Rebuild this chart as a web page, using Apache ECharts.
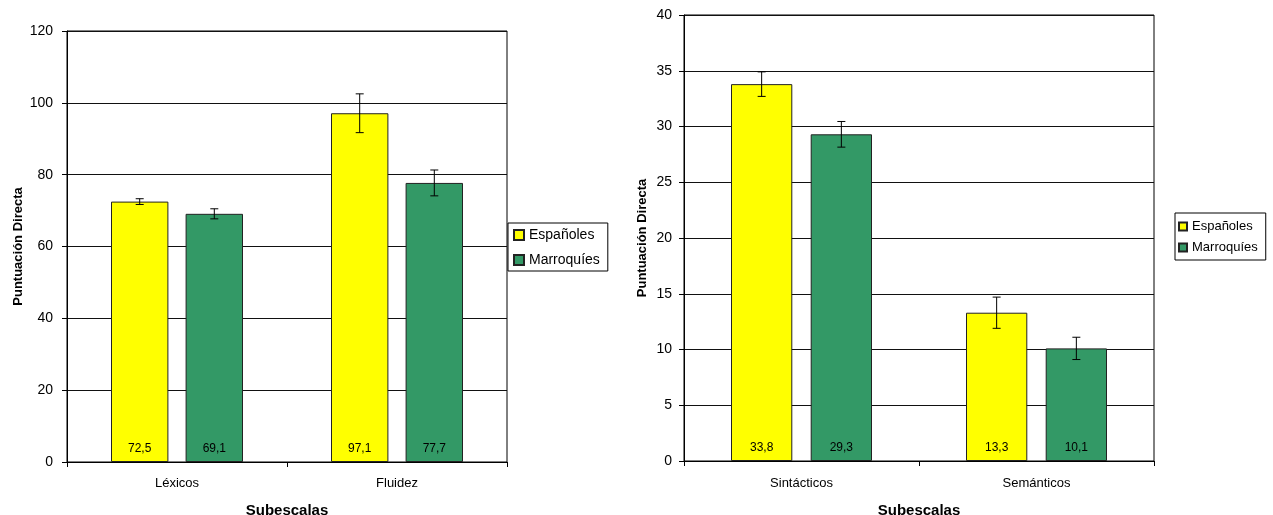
<!DOCTYPE html>
<html>
<head>
<meta charset="utf-8">
<script src="https://cdn.jsdelivr.net/npm/echarts@6/dist/echarts.min.js"></script>
<style>
html,body{margin:0;padding:0;background:#fff;}
#c{width:1273px;height:515px;}
</style>
</head>
<body>
<div id="c"></div>
<script>
// Data
const seriesNames = ['Españoles', 'Marroquíes'];
const catsLeft = ['Léxicos', 'Fluidez'];
const espLeft = [72.5, 97.1];
const marLeft = [69.1, 77.7];
const espLeftErr = [0.8, 5.4];
const marLeftErr = [1.4, 3.6];
const catsRight = ['Sintácticos', 'Semánticos'];
const espRight = [33.8, 13.3];
const marRight = [29.3, 10.1];
const espRightErr = [1.1, 1.4];
const marRightErr = [1.15, 1.0];
const yLeft = {min: 0, max: 120, interval: 20};
const yRight = {min: 0, max: 40, interval: 5};

const COLORS = ['#FFFF00', '#339966'];
const FONT = '"Liberation Sans", Arial, sans-serif';
const CAT_GAP = 0.4, BAR_GAP = 0.3;

function errSeries(gridIdx, values, errs, idx) {
  return {
    type: 'custom',
    xAxisIndex: gridIdx, yAxisIndex: gridIdx,
    silent: true, z: 5,
    data: values.map((v, i) => [i, v - errs[i], v + errs[i]]),
    renderItem: function (params, api) {
      const bw = api.size([1, 0])[0];
      const barW = bw * (1 - CAT_GAP) / (2 + BAR_GAP);
      const half = bw * (1 - CAT_GAP) / 2;
      const off = idx === 0 ? -half + barW / 2 : half - barW / 2;
      const lo = api.coord([api.value(0), api.value(1)]);
      const hi = api.coord([api.value(0), api.value(2)]);
      const x = lo[0] + off;
      const cap = 4;
      const st = {stroke: '#000', lineWidth: 1};
      return {
        type: 'group',
        children: [
          {type: 'line', shape: {x1: x, y1: lo[1], x2: x, y2: hi[1]}, style: st},
          {type: 'line', shape: {x1: x - cap, y1: lo[1], x2: x + cap, y2: lo[1]}, style: st},
          {type: 'line', shape: {x1: x - cap, y1: hi[1], x2: x + cap, y2: hi[1]}, style: st}
        ]
      };
    }
  };
}

function barSeries(gridIdx, name, values, idx) {
  return {
    type: 'bar', name: name,
    xAxisIndex: gridIdx, yAxisIndex: gridIdx,
    data: values,
    barGap: (BAR_GAP * 100) + '%',
    barCategoryGap: (CAT_GAP * 100) + '%',
    itemStyle: {color: COLORS[idx], borderColor: '#222', borderWidth: 1},
    label: {
      show: true, position: 'insideBottom', distance: 7,
      color: '#000', fontSize: 12, fontFamily: FONT,
      formatter: p => String(p.value).replace('.', ',')
    }
  };
}

function xAxis(gridIdx, cats, nameGap, margin) {
  return {
    type: 'category', gridIndex: gridIdx, data: cats,
    name: 'Subescalas', nameLocation: 'middle', nameGap: nameGap,
    nameTextStyle: {fontWeight: 'bold', fontSize: 15, color: '#000', fontFamily: FONT},
    axisLine: {lineStyle: {color: '#000', width: 1}},
    axisTick: {show: true, length: 5, inside: false, lineStyle: {color: '#000'}},
    axisLabel: {color: '#000', fontSize: 13, margin: margin, fontFamily: FONT},
    splitLine: {show: false}
  };
}

function yAxis(gridIdx, cfg, nameGap, margin) {
  return {
    type: 'value', gridIndex: gridIdx,
    min: cfg.min, max: cfg.max, interval: cfg.interval,
    name: 'Puntuación Directa', nameLocation: 'middle', nameRotate: 90, nameGap: nameGap,
    nameTextStyle: {fontWeight: 'bold', fontSize: 13, color: '#000', fontFamily: FONT},
    axisLine: {show: true, lineStyle: {color: '#000', width: 1}},
    axisTick: {show: true, length: 5, inside: false, lineStyle: {color: '#000'}},
    axisLabel: {color: '#000', fontSize: 14, margin: margin, fontFamily: FONT},
    splitLine: {show: true, lineStyle: {color: '#111', width: 1}}
  };
}

function legend(left, top, gap, fs, icon, padding) {
  return {
    data: seriesNames, orient: 'vertical', left: left, top: top,
    backgroundColor: '#fff', borderColor: '#000', borderWidth: 1,
    padding: padding, itemGap: gap,
    itemWidth: icon, itemHeight: icon, icon: 'rect',
    textStyle: {color: '#000', fontSize: fs, fontFamily: FONT},
    selectedMode: false
  };
}

const chart = echarts.init(document.getElementById('c'), null, {renderer: 'canvas'});
chart.setOption({
  animation: false,
  backgroundColor: '#fff',
  grid: [
    {left: 67, top: 31, width: 440, height: 431, containLabel: false, outerBoundsMode: 'none',
     show: true, borderColor: '#000', borderWidth: 1, backgroundColor: '#fff'},
    {left: 684, top: 15, width: 470, height: 446, containLabel: false, outerBoundsMode: 'none',
     show: true, borderColor: '#000', borderWidth: 1, backgroundColor: '#fff'}
  ],
  legend: [
    legend(508, 223, 11, 14, 10, [5, 8, 4, 5]),
    legend(1175, 213, 8, 13, 8, [7, 8, 6, 3])
  ],
  xAxis: [xAxis(0, catsLeft, 41, 15), xAxis(1, catsRight, 42, 16)],
  yAxis: [yAxis(0, yLeft, 42, 14), yAxis(1, yRight, 35, 12)],
  series: [
    barSeries(0, seriesNames[0], espLeft, 0),
    barSeries(0, seriesNames[1], marLeft, 1),
    barSeries(1, seriesNames[0], espRight, 0),
    barSeries(1, seriesNames[1], marRight, 1),
    errSeries(0, espLeft, espLeftErr, 0),
    errSeries(0, marLeft, marLeftErr, 1),
    errSeries(1, espRight, espRightErr, 0),
    errSeries(1, marRight, marRightErr, 1)
  ]
});
</script>
</body>
</html>
